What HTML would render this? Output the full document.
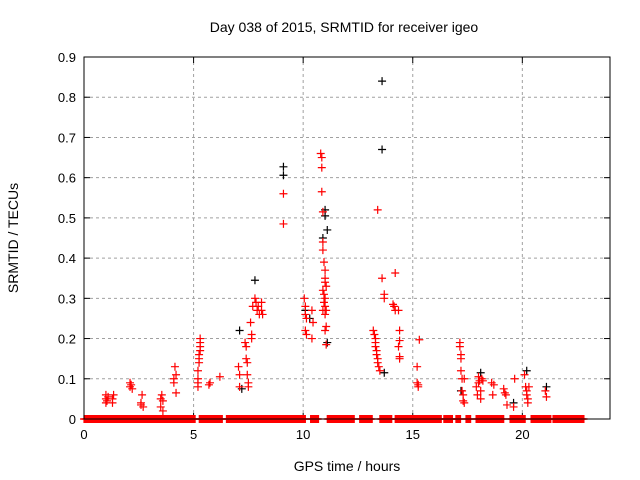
<!DOCTYPE html>
<html><head><meta charset="utf-8"><style>
body{margin:0;background:#fff}
svg{display:block;font-family:"Liberation Sans",sans-serif}
</style></head><body>
<svg id="chart" width="640" height="480">
<text x="344" y="32" font-size="14" text-anchor="middle">Day 038 of 2015, SRMTID for receiver igeo</text>
<text x="347" y="471" font-size="14" text-anchor="middle">GPS time / hours</text>
<text x="18" y="238" font-size="14" text-anchor="middle" transform="rotate(-90 18 238)">SRMTID / TECUs</text>
<g id="grid"></g><g id="marks"></g>
<rect x="84" y="57" width="526" height="362" fill="none" stroke="#000" stroke-width="1"/>
</svg>
<script>
const xTicks=[0,5,10,15,20];
const yTicks=[0,0.1,0.2,0.3,0.4,0.5,0.6,0.7,0.8,0.9];
const yLabels=["0","0.1","0.2","0.3","0.4","0.5","0.6","0.7","0.8","0.9"];
const blackX=[7.1,7.2,7.8,9.1,9.1,10.1,10.3,10.9,11.0,11.0,11.1,11.1,13.6,13.6,13.7,17.2,18.1,19.6,20.2,21.1];
const blackY=[0.22,0.075,0.345,0.627,0.606,0.27,0.25,0.45,0.52,0.505,0.47,0.19,0.84,0.67,0.115,0.07,0.115,0.04,0.12,0.08];
const redX=[1.0,1.0,1.0,1.05,1.1,1.3,1.3,1.35,2.1,2.1,2.15,2.2,2.6,2.6,2.65,2.7,3.5,3.5,3.55,3.6,3.6,4.1,4.1,4.15,4.2,4.2,
5.2,5.2,5.2,5.2,5.25,5.25,5.25,5.3,5.3,5.3,5.3,5.7,5.75,6.2,7.05,7.1,7.1,7.35,7.4,7.4,7.45,7.45,7.5,7.5,7.6,7.65,7.65,7.7,7.8,7.85,7.9,7.95,8.0,8.1,8.1,8.15,
9.1,9.1,10.05,10.1,10.1,10.15,10.1,10.15,10.4,10.4,10.45,10.8,10.85,10.85,10.85,10.9,10.9,10.9,10.95,11.0,11.0,11.0,11.05,10.9,10.95,11.0,10.95,11.0,10.9,11.0,11.05,11.0,11.05,11.05,
13.2,13.25,13.3,13.3,13.35,13.35,13.4,13.4,13.45,13.5,13.3,13.4,13.6,13.7,13.7,14.1,14.15,14.2,14.2,14.35,14.4,14.4,14.35,14.4,14.4,
15.2,15.2,15.25,15.25,15.3,17.15,17.15,17.2,17.2,17.2,17.25,17.25,17.3,17.3,17.35,17.35,17.9,17.95,18.0,18.0,18.05,18.1,18.1,18.15,18.2,18.6,18.65,18.7,19.15,19.2,19.25,19.3,19.6,19.65,20.1,20.15,20.2,20.2,20.25,20.25,20.3,21.05,21.1,21.15];
const redY=[0.05,0.04,0.06,0.045,0.055,0.05,0.04,0.06,0.08,0.09,0.085,0.075,0.035,0.04,0.06,0.03,0.05,0.03,0.06,0.02,0.045,0.09,0.1,0.13,0.065,0.11,
0.08,0.09,0.1,0.12,0.14,0.15,0.16,0.17,0.18,0.2,0.19,0.085,0.09,0.105,0.13,0.11,0.08,0.19,0.18,0.15,0.14,0.11,0.09,0.08,0.24,0.21,0.2,0.28,0.3,0.29,0.27,0.28,0.26,0.29,0.27,0.26,
0.56,0.485,0.3,0.28,0.26,0.25,0.22,0.21,0.27,0.2,0.24,0.66,0.65,0.625,0.565,0.515,0.44,0.42,0.39,0.37,0.35,0.34,0.33,0.32,0.31,0.3,0.29,0.28,0.27,0.26,0.23,0.22,0.185,
0.27,0.22,0.21,0.2,0.19,0.17,0.16,0.15,0.14,0.13,0.12,0.18,0.52,0.35,0.3,0.31,0.285,0.28,0.27,0.363,0.27,0.22,0.195,0.18,0.15,
0.155,0.13,0.09,0.08,0.085,0.197,0.19,0.18,0.16,0.15,0.12,0.1,0.07,0.06,0.045,0.04,0.1,0.08,0.06,0.105,0.09,0.095,0.07,0.05,0.1,0.095,0.09,0.06,0.085,0.075,0.065,0.06,0.035,0.03,0.1,0.11,0.08,0.07,0.06,0.05,0.04,0.08,0.07,0.055];
const zeroRuns=[[0.0,5.08],[5.26,6.31],[6.5,10.1],[10.34,10.7],[11.1,12.35],[12.58,13.17],[13.5,14.04],[14.2,16.3],[16.42,16.83],[16.97,17.2],[17.43,17.66],[17.89,19.17],[19.44,20.13],[20.4,21.32],[21.4,22.83]];
const NS="http://www.w3.org/2000/svg";
const X0=84,X1=610,Y0=419,Y1=57;
const xs=v=>X0+(v/24)*(X1-X0);
const ys=v=>Y0-(v/0.9)*(Y0-Y1);
const grid=document.getElementById('grid'),marks=document.getElementById('marks');
function mk(t,a,p){const e=document.createElementNS(NS,t);for(const k in a)e.setAttribute(k,a[k]);p.appendChild(e);return e;}
yTicks.forEach((v,i)=>{const y=ys(v);
 if(i>0&&i<yTicks.length-1){const g=mk('line',{x1:X0,x2:X1,y1:y,y2:y,stroke:'#a0a0a0','stroke-dasharray':'3,3'},grid);
 
 }
 mk('line',{x1:X0,x2:X0+6,y1:y,y2:y,stroke:'#000'},grid);mk('line',{x1:X1-6,x2:X1,y1:y,y2:y,stroke:'#000'},grid);
 const t=mk('text',{x:X0-8,y:y+5,'font-size':13,'text-anchor':'end'},grid);t.textContent=yLabels[i];
 
 });
xTicks.forEach(v=>{const x=xs(v);
 if(v>0){const g=mk('line',{x1:x,x2:x,y1:Y0,y2:Y1,stroke:'#a0a0a0','stroke-dasharray':'3,3'},grid);
 
 }
 mk('line',{x1:x,x2:x,y1:Y0,y2:Y0-6,stroke:'#000'},grid);mk('line',{x1:x,x2:x,y1:Y1,y2:Y1+6,stroke:'#000'},grid);
 const t=mk('text',{x:x,y:Y0+20,'font-size':13,'text-anchor':'middle'},grid);t.textContent=String(v);
 
 });
function cross(x,y,c,name){const p=mk('path',{d:`M${x-4} ${y}h8M${x} ${y-4}v8`,stroke:c,'stroke-width':1.2,fill:'none'},marks);
 
 }
blackX.forEach((v,i)=>cross(xs(v),ys(blackY[i]),'#000','black-point'));
zeroRuns.forEach(r=>{for(let h=r[0];h<=r[1]+1e-9;h+=0.03)cross(xs(h),ys(0),'#ff0000','zero-point');});
redX.forEach((v,i)=>cross(xs(v),ys(redY[i]),'#ff0000','red-point'));
</script>
</body></html>
